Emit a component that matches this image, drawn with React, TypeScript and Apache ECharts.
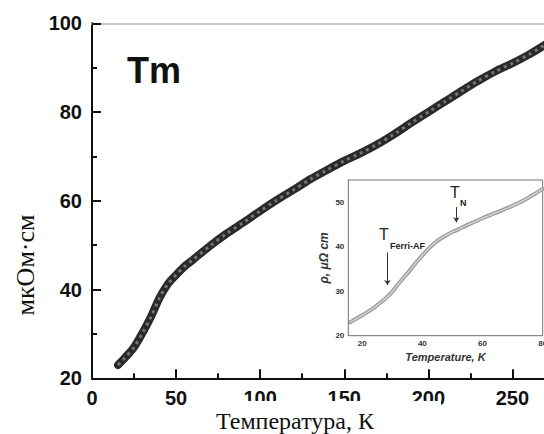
import React, { useEffect, useRef } from "react";
import * as echarts from "echarts";

// Main curve: resistivity of Tm vs temperature
const mainT = [15.5, 17, 20, 25, 30, 35, 40, 45, 50, 55, 60, 70, 80, 90, 100, 110, 120, 130, 140, 150, 160, 170, 180, 190, 200, 210, 220, 230, 240, 250, 260, 270];
const mainR = [23.0, 23.6, 24.8, 27.0, 30.2, 33.8, 38.0, 41.2, 43.3, 45.2, 46.7, 49.8, 52.6, 55.1, 57.7, 60.2, 62.5, 64.9, 67.0, 69.0, 70.8, 72.8, 75.1, 77.6, 80.0, 82.4, 84.8, 87.1, 89.2, 91.0, 93.0, 95.3];

// Inset curve (low temperature)
const insetT = [16, 18, 20, 22, 24, 26, 28, 30, 32, 34, 36, 38, 40, 42, 44, 46, 48, 50, 52, 55, 60, 65, 70, 75, 80];
const insetR = [23.0, 23.8, 24.6, 25.4, 26.3, 27.4, 28.5, 29.9, 31.6, 33.2, 34.8, 36.5, 38.0, 39.5, 40.8, 41.8, 42.6, 43.3, 43.9, 44.9, 46.4, 47.8, 49.2, 50.9, 53.0];

// Tick labels
const mainXTicks = [0, 50, 100, 150, 200, 250, 300];
const mainYTicks = [20, 40, 60, 80, 100];
const insetXLabels = [20, 40, 60, 80];
const insetXTicks = [20, 30, 40, 50, 60, 70, 80];
const insetYLabels = [20, 30, 40, 50];
const insetYTicks = [20, 25, 30, 35, 40, 45, 50, 55];

// Annotation arrows (temperature, from value, to value)
const ferriArrow = [28.4, 38.7, 31.4];
const neelArrow = [51.3, 48.9, 45.5];

const SANS = "'Liberation Sans', Arial, sans-serif";
const SERIF = "'Liberation Serif', 'Times New Roman', serif";

export default function App() {
  const ref = useRef<HTMLDivElement>(null);
  useEffect(() => {
    if (!ref.current) return;
    const chart = echarts.init(ref.current, null, { renderer: "svg" });
    const mainData = mainT.map((t, i) => [t, mainR[i]]);
    const insetData = insetT.map((t, i) => [t, insetR[i]]);
    const option: any = {
      animation: false,
      backgroundColor: "#ffffff",
      grid: [
        { left: 92, right: 23.5, top: 23.3, bottom: 55.7, containLabel: false, outerBoundsMode: "none" },
        {
          left: 348.3, right: 77.3, top: 180, bottom: 98.3, containLabel: false, outerBoundsMode: "none",
          show: true, backgroundColor: "#ffffff", borderColor: "#777", borderWidth: 1, z: 5,
        },
      ],
      xAxis: [
        {
          type: "value", gridIndex: 0, min: mainXTicks[0], max: mainXTicks[mainXTicks.length - 1], interval: 50,
          axisLine: { show: true, lineStyle: { color: "#111", width: 2 } },
          axisTick: { show: true, inside: true, length: 9, lineStyle: { color: "#111", width: 2 } },
          minorTick: { show: true, splitNumber: 2, length: 5, lineStyle: { color: "#111", width: 2 } },
          splitLine: { show: false },
          axisLabel: { fontSize: 20, fontWeight: "bold", fontFamily: SANS, color: "#111", margin: 10 },
        },
        {
          type: "value", gridIndex: 0, position: "top", min: 0, max: 300,
          axisLine: { show: true, onZero: false, lineStyle: { color: "#c8c8c8", width: 2 } },
          axisTick: { show: false }, axisLabel: { show: false }, splitLine: { show: false },
        },
        {
          type: "value", gridIndex: 1, min: 15.4, max: 80,
          axisLine: { show: true, lineStyle: { color: "#666", width: 1 } },
          axisTick: { show: true, inside: true, length: 3, customValues: insetXTicks, lineStyle: { color: "#666" } },
          axisLabel: { customValues: insetXLabels, fontSize: 8, fontWeight: "bold", fontFamily: SANS, color: "#333", margin: 4 },
          splitLine: { show: false },
          name: "Temperature, K", nameLocation: "middle", nameGap: 16,
          nameTextStyle: { fontSize: 11, fontWeight: "bold", fontStyle: "italic", fontFamily: SANS, color: "#333" },
        },
      ],
      yAxis: [
        {
          type: "value", gridIndex: 0, min: mainYTicks[0], max: mainYTicks[mainYTicks.length - 1], interval: 20,
          axisLine: { show: true, lineStyle: { color: "#111", width: 2 } },
          axisTick: { show: true, inside: true, length: 9, lineStyle: { color: "#111", width: 2 } },
          minorTick: { show: true, splitNumber: 2, length: 5, lineStyle: { color: "#111", width: 2 } },
          splitLine: { show: false },
          axisLabel: { fontSize: 20, fontWeight: "bold", fontFamily: SANS, color: "#111", margin: 10 },
        },
        {
          type: "value", gridIndex: 1, min: 20, max: 55,
          axisLine: { show: true, lineStyle: { color: "#666", width: 1 } },
          axisTick: { show: true, inside: true, length: 3, customValues: insetYTicks, lineStyle: { color: "#666" } },
          axisLabel: { customValues: insetYLabels, fontSize: 8, fontWeight: "bold", fontFamily: SANS, color: "#333", margin: 4 },
          splitLine: { show: false },
          name: "ρ, μΩ cm", nameLocation: "middle", nameGap: 18,
          nameTextStyle: { fontSize: 12, fontWeight: "bold", fontStyle: "italic", fontFamily: SANS, color: "#333" },
        },
      ],
      series: [
        {
          type: "line", xAxisIndex: 0, yAxisIndex: 0, data: mainData, showSymbol: false, smooth: 0.3,
          lineStyle: { color: "#2a2a2a", width: 8, cap: "round", join: "round" }, z: 2,
        },
        {
          type: "line", xAxisIndex: 0, yAxisIndex: 0, data: mainData, showSymbol: false, smooth: 0.3,
          lineStyle: { color: "#a8a8a8", width: 3, type: [3, 4], opacity: 0.6 }, z: 3,
        },
        {
          type: "line", xAxisIndex: 2, yAxisIndex: 1, data: insetData, showSymbol: false, smooth: 0.3,
          lineStyle: { color: "#9a9a9a", width: 4, cap: "round" }, z: 6,
          markLine: {
            silent: true, symbol: ["none", "arrow"], symbolSize: 5, animation: false,
            label: { show: false },
            lineStyle: { color: "#333", width: 1, type: "solid" },
            data: [
              [{ coord: [ferriArrow[0], ferriArrow[1]] }, { coord: [ferriArrow[0], ferriArrow[2]] }],
              [{ coord: [neelArrow[0], neelArrow[1]] }, { coord: [neelArrow[0], neelArrow[2]] }],
            ],
          },
        },
        {
          type: "line", xAxisIndex: 2, yAxisIndex: 1, data: insetData, showSymbol: false, smooth: 0.3,
          lineStyle: { color: "#d2d2d2", width: 1.5 }, z: 7,
        },
      ],
      graphic: {
        elements: [
          {
            type: "text", x: 127, y: 70, z: 50,
            style: { text: "Tm", font: `bold 36px ${SANS}`, fill: "#111", verticalAlign: "middle" },
          },
          {
            type: "rect", z: 100, shape: { x: 198, y: 401, width: 243, height: 40 }, style: { fill: "#ffffff" },
          },
          {
            type: "text", x: 295, y: 421, z: 101,
            style: { text: "Температура, К", font: `24px ${SERIF}`, fill: "#111", align: "center", verticalAlign: "middle" },
          },
          {
            type: "text", x: 25, y: 265, z: 101, rotation: Math.PI / 2,
            style: { text: "мкОм·см", font: `26px ${SERIF}`, fill: "#111", align: "center", verticalAlign: "middle" },
          },
          {
            type: "text", x: 379, y: 234, z: 60,
            style: { text: "T", font: `16px ${SANS}`, fill: "#222", verticalAlign: "middle" },
          },
          {
            type: "text", x: 390, y: 246, z: 60,
            style: { text: "Ferri-AF", font: `bold 9px ${SANS}`, fill: "#222", verticalAlign: "middle" },
          },
          {
            type: "text", x: 450, y: 192.5, z: 60,
            style: { text: "T", font: `16px ${SANS}`, fill: "#222", verticalAlign: "middle" },
          },
          {
            type: "text", x: 460, y: 203, z: 60,
            style: { text: "N", font: `bold 9px ${SANS}`, fill: "#222", verticalAlign: "middle" },
          },
        ],
      },
    };
    chart.setOption(option);
    return () => chart.dispose();
  }, []);
  return (
    <div style={{ position: "fixed", left: 0, top: 0, width: 544, height: 434, overflow: "hidden", background: "#fff" }}>
      <div ref={ref} style={{ width: 620, height: 434 }} />
    </div>
  );
}
